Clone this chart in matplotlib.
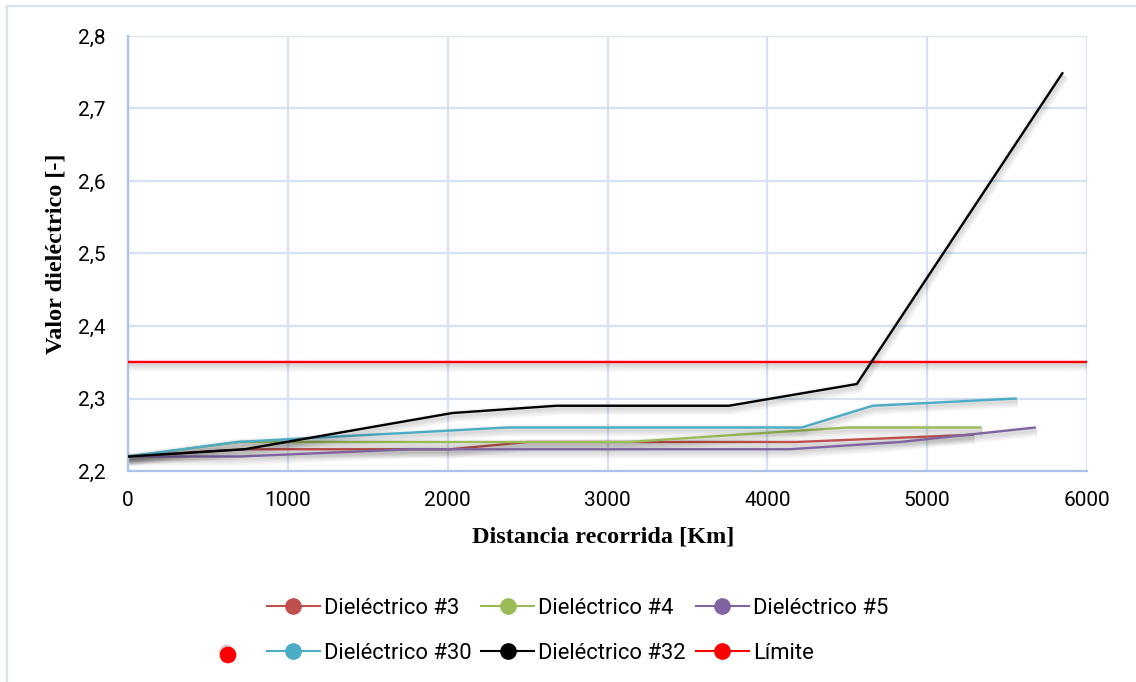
import numpy as np
import matplotlib
matplotlib.use('Agg')
import matplotlib.pyplot as plt
import matplotlib.patheffects as pe
from matplotlib.lines import Line2D
from matplotlib.ticker import FuncFormatter

# distance travelled [km] and dielectric value for each sample
x_d3 = [0, 730, 2020, 2500, 4180, 5290]
y_d3 = [2.22, 2.23, 2.23, 2.24, 2.24, 2.25]
x_d4 = [0, 700, 3130, 4500, 5340]
y_d4 = [2.22, 2.24, 2.24, 2.26, 2.26]
x_d5 = [0, 700, 1770, 4140, 4830, 5680]
y_d5 = [2.22, 2.22, 2.23, 2.23, 2.24, 2.26]
x_d30 = [0, 680, 2370, 4215, 4660, 5560]
y_d30 = [2.22, 2.24, 2.26, 2.26, 2.29, 2.30]
x_d32 = [0, 730, 2030, 2680, 3760, 4560, 5850]
y_d32 = [2.22, 2.23, 2.28, 2.29, 2.29, 2.32, 2.75]
x_lim = [0, 6000]
y_lim = [2.35, 2.35]

names = ['Dieléctrico #3', 'Dieléctrico #4', 'Dieléctrico #5',
         'Dieléctrico #30', 'Dieléctrico #32', 'Límite']
colors = ['#C0504D', '#9BBB59', '#8064A2', '#4BACC6', '#000000', '#FF0000']
xs = [x_d3, x_d4, x_d5, x_d30, x_d32, x_lim]
ys = [y_d3, y_d4, y_d5, y_d30, y_d32, y_lim]

xticks = [0, 1000, 2000, 3000, 4000, 5000, 6000]
yticks = [2.2, 2.3, 2.4, 2.5, 2.6, 2.7, 2.8]

grid_c = '#D6E2F3'
spine_c = '#A9C4E8'

# soft grey drop shadow under every line
shadow = [pe.SimpleLineShadow(offset=(0.8, -2.2), shadow_color='k', alpha=0.025, linewidth=w)
          for w in (1.5, 3, 4.5, 6, 7.5, 9)] + [pe.Normal()]

fig = plt.figure(figsize=(11.36, 6.82), dpi=100)
ax = fig.add_axes([128/1136, 1 - 471/682, 959/1136, 435/682])

# draw order: limit first, then the dielectric series
order = [5, 0, 1, 2, 3, 4]
for i in order:
    ax.plot(xs[i], ys[i], color=colors[i], lw=1.7, path_effects=shadow,
            solid_capstyle='butt', zorder=3)

ax.set_xlim(0, 6000)
ax.set_ylim(2.2, 2.8)
ax.set_xticks(xticks)
ax.set_yticks(yticks)
ax.yaxis.set_major_formatter(FuncFormatter(lambda v, p: ('%.1f' % v).replace('.', ',')))
ax.grid(True, color=grid_c, lw=1.6, zorder=0)
ax.set_axisbelow(True)
for s in ['top', 'right']:
    ax.spines[s].set_visible(False)
for s in ['left', 'bottom']:
    ax.spines[s].set_color(spine_c)
    ax.spines[s].set_linewidth(1.6)
ax.tick_params(length=0, labelsize=15, labelcolor='black')
ax.tick_params(axis='y', pad=16)
ax.tick_params(axis='x', pad=14.5)
for lab in ax.get_xticklabels() + ax.get_yticklabels():
    lab.set_fontfamily('Roboto')

ax.set_xlabel('Distancia recorrida [Km]', fontsize=17.5, fontweight='bold',
              fontfamily='Liberation Serif')
ax.set_ylabel('Valor dieléctrico [-]', fontsize=17.5, fontweight='bold',
              fontfamily='Liberation Serif')
ax.xaxis.set_label_coords(0.495, -0.128)
ax.yaxis.set_label_coords(-0.064, 0.5)

# legend filled row by row: #3 #4 #5 / #30 #32 Límite
handles = [Line2D([], [], color=c, lw=1.5, marker='o', markersize=11,
                  markerfacecolor=c, markeredgecolor=c) for c in colors]
row_order = [0, 3, 1, 4, 2, 5]
leg = fig.legend([handles[i] for i in row_order], [names[i] for i in row_order],
                 loc='center', bbox_to_anchor=(0.5085, 0.075),
                 ncol=3, frameon=False, handlelength=2.4, handletextpad=0.2,
                 columnspacing=0.45, labelspacing=1.1,
                 prop={'family': 'Roboto', 'size': 15.8})

# stray marker at the left of the second legend row
dot = Line2D([228/1136], [1 - 655/682], transform=fig.transFigure, marker='o',
             markersize=11, color='#FF0000', lw=0,
             path_effects=[pe.SimplePatchShadow(offset=(-1, 2), alpha=0.2), pe.Normal()])
fig.add_artist(dot)

# chart area border (left and top edges only are in view)
fig.add_artist(Line2D([7/1136, 7/1136], [0, 1 - 6/682], transform=fig.transFigure,
                      color=grid_c, lw=1.6))
fig.add_artist(Line2D([7/1136, 1], [1 - 6/682, 1 - 6/682], transform=fig.transFigure,
                      color=grid_c, lw=1.6))

fig.savefig('out.png', dpi=100)
